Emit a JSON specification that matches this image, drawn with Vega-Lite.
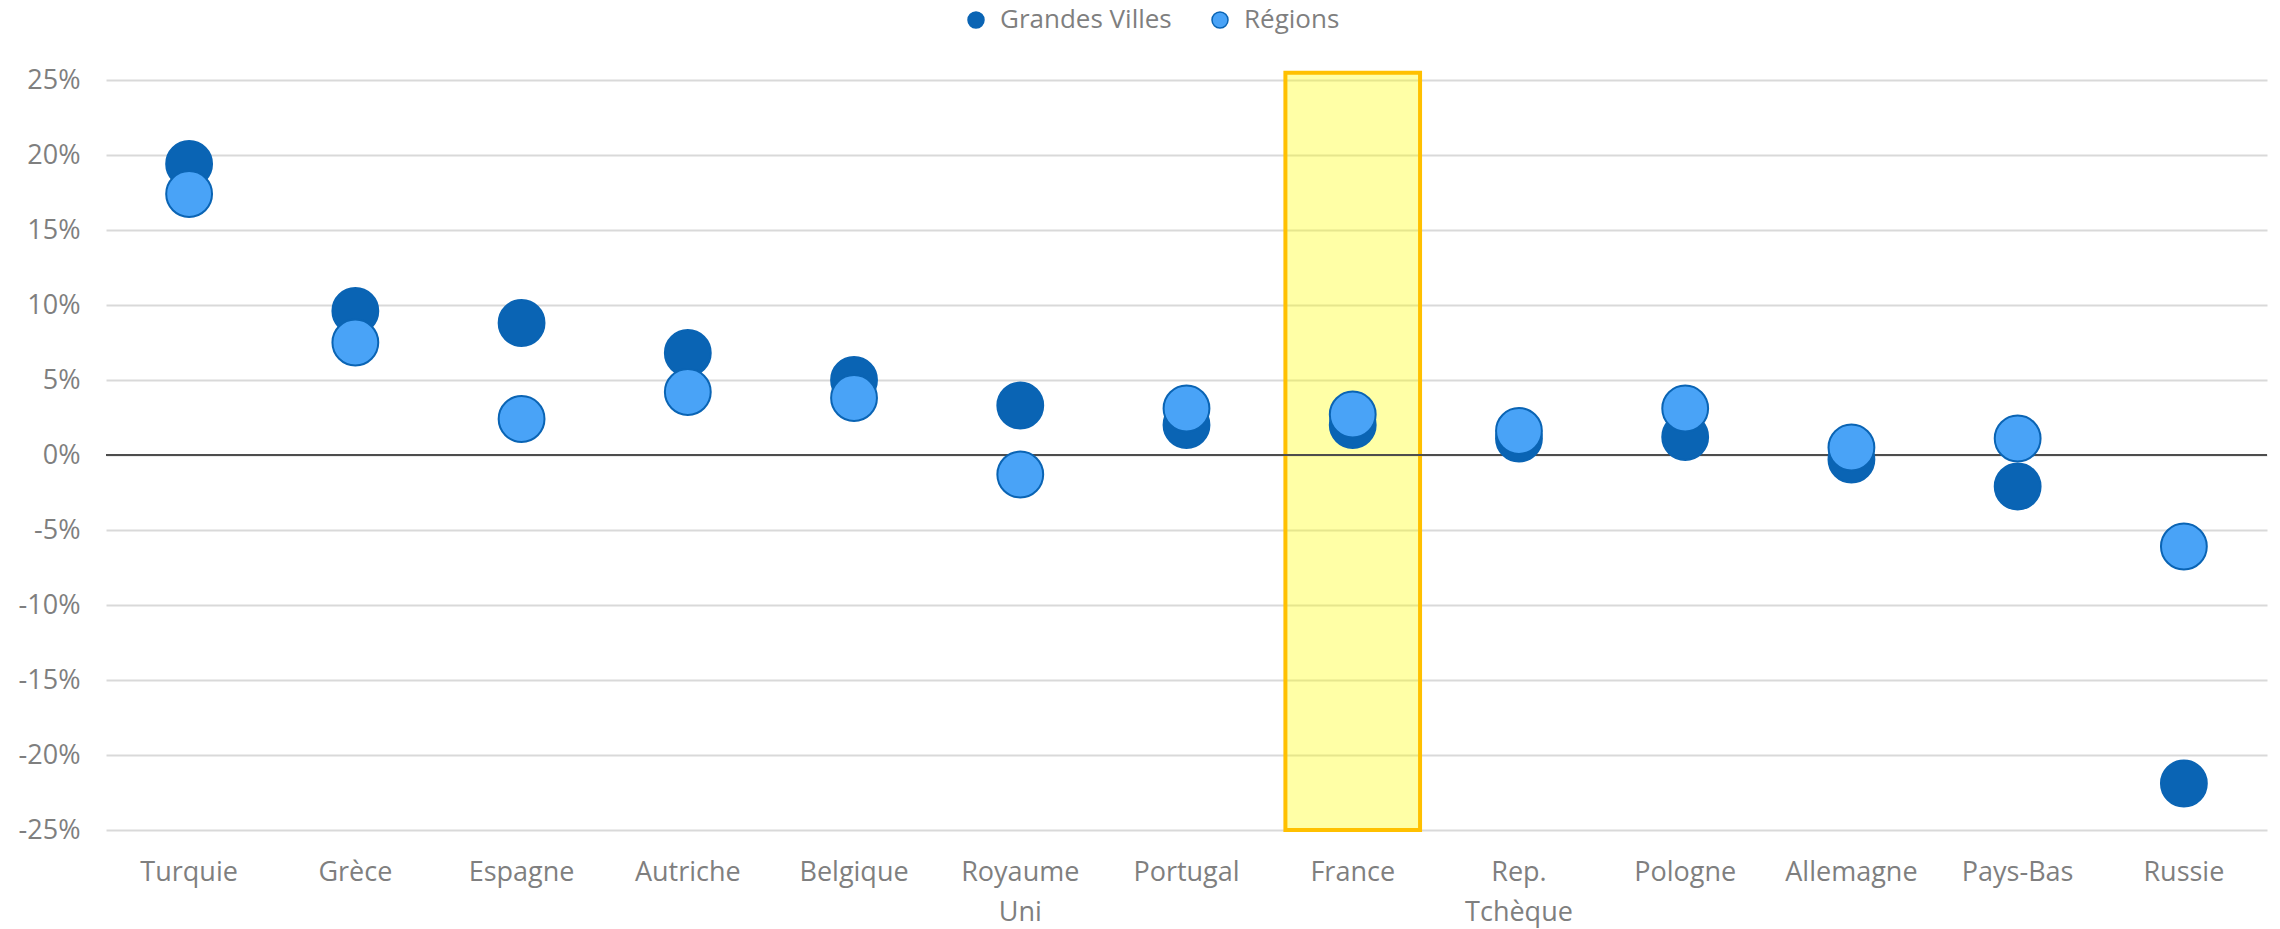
{
  "$schema": "https://vega.github.io/schema/vega-lite/v6.json",
  "width": 2161,
  "height": 750,
  "autosize": {"type": "none"},
  "padding": {"left": 106, "top": 80, "right": 13, "bottom": 99},
  "background": "white",
  "config": {
    "view": {"stroke": null},
    "font": "Open Sans"
  },
  "datasets": {
    "pts": [
      {"pays": "Turquie", "serie": "Grandes Villes", "valeur": 0.194},
      {"pays": "Grèce", "serie": "Grandes Villes", "valeur": 0.096},
      {"pays": "Espagne", "serie": "Grandes Villes", "valeur": 0.088},
      {"pays": "Autriche", "serie": "Grandes Villes", "valeur": 0.068},
      {"pays": "Belgique", "serie": "Grandes Villes", "valeur": 0.050},
      {"pays": "Royaume Uni", "serie": "Grandes Villes", "valeur": 0.033},
      {"pays": "Portugal", "serie": "Grandes Villes", "valeur": 0.020},
      {"pays": "France", "serie": "Grandes Villes", "valeur": 0.020},
      {"pays": "Rep. Tchèque", "serie": "Grandes Villes", "valeur": 0.011},
      {"pays": "Pologne", "serie": "Grandes Villes", "valeur": 0.012},
      {"pays": "Allemagne", "serie": "Grandes Villes", "valeur": -0.003},
      {"pays": "Pays-Bas", "serie": "Grandes Villes", "valeur": -0.021},
      {"pays": "Russie", "serie": "Grandes Villes", "valeur": -0.219},
      {"pays": "Turquie", "serie": "Régions", "valeur": 0.174},
      {"pays": "Grèce", "serie": "Régions", "valeur": 0.075},
      {"pays": "Espagne", "serie": "Régions", "valeur": 0.024},
      {"pays": "Autriche", "serie": "Régions", "valeur": 0.042},
      {"pays": "Belgique", "serie": "Régions", "valeur": 0.038},
      {"pays": "Royaume Uni", "serie": "Régions", "valeur": -0.013},
      {"pays": "Portugal", "serie": "Régions", "valeur": 0.031},
      {"pays": "France", "serie": "Régions", "valeur": 0.027},
      {"pays": "Rep. Tchèque", "serie": "Régions", "valeur": 0.016},
      {"pays": "Pologne", "serie": "Régions", "valeur": 0.031},
      {"pays": "Allemagne", "serie": "Régions", "valeur": 0.005},
      {"pays": "Pays-Bas", "serie": "Régions", "valeur": 0.011},
      {"pays": "Russie", "serie": "Régions", "valeur": -0.061}
    ],
    "highlight": [
      {"pays": "France", "haut": 0.2549, "bas": -0.25}
    ],
    "zero": [
      {"valeur": 0}
    ]
  },
  "layer": [
    {
      "data": {"name": "highlight"},
      "mark": {
        "type": "bar",
        "fill": "#FFFF00",
        "fillOpacity": 0.35,
        "stroke": "#FFC000",
        "strokeWidth": 4,
        "width": {"band": 0.81},
        "clip": false
      },
      "encoding": {
        "x": {
          "field": "pays",
          "type": "nominal",
          "sort": ["Turquie", "Grèce", "Espagne", "Autriche", "Belgique", "Royaume Uni", "Portugal", "France", "Rep. Tchèque", "Pologne", "Allemagne", "Pays-Bas", "Russie"],
          "scale": {"paddingInner": 0, "paddingOuter": 0},
          "axis": {
            "title": null,
            "orient": "bottom",
            "labelAngle": 0,
            "domain": false,
            "ticks": false,
            "tickSize": 0,
            "grid": false,
            "labelFont": "Open Sans",
            "labelFontSize": 27,
            "labelColor": "#7F7F7F",
            "labelPadding": 29,
            "labelBaseline": "top",
            "labelLineHeight": 40,
            "labelLimit": 300,
            "labelExpr": "datum.value == 'Royaume Uni' ? ['Royaume', 'Uni'] : (datum.value == 'Rep. Tchèque' ? ['Rep.', 'Tchèque'] : datum.value)"
          }
        },
        "y": {"field": "haut", "type": "quantitative"},
        "y2": {"field": "bas"}
      }
    },
    {
      "data": {"name": "zero"},
      "mark": {"type": "rule", "color": "#4D4D4D", "strokeWidth": 2},
      "encoding": {
        "y": {"field": "valeur", "type": "quantitative"}
      }
    },
    {
      "data": {"name": "pts"},
      "mark": {"type": "point", "shape": "circle", "filled": true, "size": 2100, "strokeWidth": 2, "opacity": 1},
      "encoding": {
        "x": {
          "field": "pays",
          "type": "nominal",
          "sort": ["Turquie", "Grèce", "Espagne", "Autriche", "Belgique", "Royaume Uni", "Portugal", "France", "Rep. Tchèque", "Pologne", "Allemagne", "Pays-Bas", "Russie"]
        },
        "y": {"field": "valeur", "type": "quantitative"},
        "color": {
          "field": "serie",
          "type": "nominal",
          "scale": {"domain": ["Grandes Villes", "Régions"], "range": ["#0A64B4", "#49A3F7"]},
          "legend": {
            "title": null,
            "orient": "none",
            "direction": "horizontal",
            "legendX": 857,
            "legendY": -73,
            "padding": 0,
            "symbolSize": 256,
            "symbolStrokeWidth": 1.5,
            "labelFont": "Open Sans",
            "labelFontSize": 26,
            "labelColor": "#7F7F7F",
            "labelOffset": 11,
            "labelLimit": 400,
            "columnPadding": 35
          }
        },
        "stroke": {
          "field": "serie",
          "type": "nominal",
          "scale": {"domain": ["Grandes Villes", "Régions"], "range": ["#0A64B4", "#0A64B4"]},
          "legend": {
            "title": null,
            "orient": "none",
            "direction": "horizontal",
            "legendX": 857,
            "legendY": -73,
            "padding": 0,
            "symbolSize": 256,
            "symbolStrokeWidth": 1.5,
            "labelFont": "Open Sans",
            "labelFontSize": 26,
            "labelColor": "#7F7F7F",
            "labelOffset": 11,
            "labelLimit": 400,
            "columnPadding": 35
          }
        }
      }
    }
  ],
  "encoding": {
    "y": {
      "type": "quantitative",
      "scale": {"domain": [-0.25, 0.25], "nice": false, "zero": false},
      "axis": {
        "title": null,
        "values": [-0.25, -0.2, -0.15, -0.1, -0.05, 0, 0.05, 0.1, 0.15, 0.2, 0.25],
        "domain": false,
        "ticks": false,
        "tickSize": 0,
        "grid": true,
        "gridColor": "#D9D9D9",
        "gridWidth": 2,
        "labelFont": "Open Sans",
        "labelFontSize": 27,
        "labelColor": "#7F7F7F",
        "labelPadding": 26,
        "labelExpr": "round(datum.value * 100) + '%'"
      }
    }
  }
}
